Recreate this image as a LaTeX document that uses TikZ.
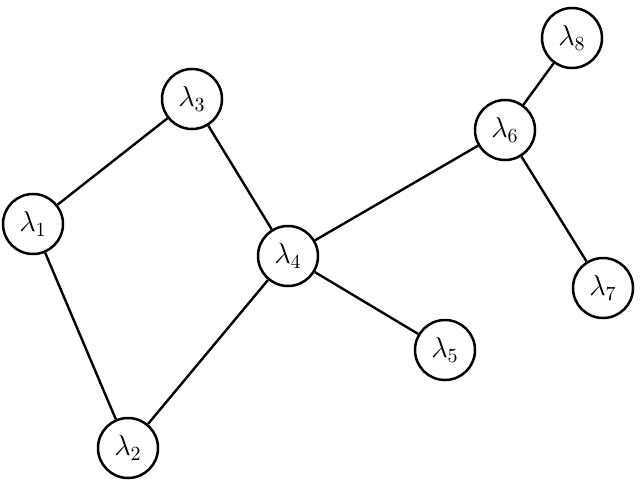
\documentclass[tikz,border=0pt]{standalone}
\begin{document}
\begin{tikzpicture}[x=0.5pt,y=-0.5pt,
  vnode/.style={circle,draw,line width=1.25pt,minimum size=30pt,inner sep=0pt,font=\Large},
  edge/.style={line width=1.2pt}]
\useasboundingbox (0,0) rectangle (640,481);
\node[vnode] (l1) at (33,224) {$\lambda_1$};
\node[vnode] (l2) at (128,448) {$\lambda_2$};
\node[vnode] (l3) at (192,99) {$\lambda_3$};
\node[vnode] (l4) at (288,256) {$\lambda_4$};
\node[vnode] (l5) at (445,350) {$\lambda_5$};
\node[vnode] (l6) at (505,130) {$\lambda_6$};
\node[vnode] (l7) at (603,288) {$\lambda_7$};
\node[vnode] (l8) at (572,38) {$\lambda_8$};
\draw[edge] (l1) -- (l3);
\draw[edge] (l1) -- (l2);
\draw[edge] (l3) -- (l4);
\draw[edge] (l2) -- (l4);
\draw[edge] (l4) -- (l6);
\draw[edge] (l4) -- (l5);
\draw[edge] (l6) -- (l8);
\draw[edge] (l6) -- (l7);
\end{tikzpicture}
\end{document}
